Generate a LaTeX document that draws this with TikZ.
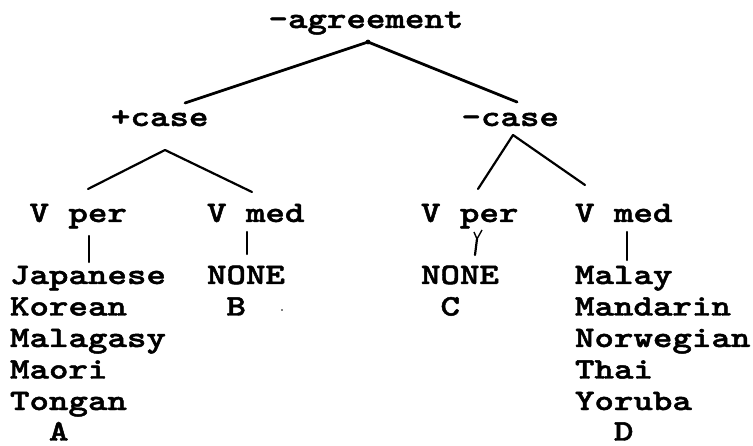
\documentclass[tikz,border=0pt]{standalone}
\usepackage{fontspec}
\newfontfamily\courfont{lmmonolt10-bold}[Extension=.otf,FakeStretch=1.25,FakeBold=1.6]
\begin{document}
\begin{tikzpicture}[x=1pt,y=-1pt,
  lbl/.style={anchor=base west,inner sep=0pt,outer sep=0pt,
    font=\courfont\fontsize{29.7}{29.7}\selectfont},
  edge/.style={line width=2.8pt,line cap=round},
  thin edge/.style={line width=2.2pt,line cap=round}]
\useasboundingbox[fill=white] (0,0) rectangle (753,446);
% labels
\node[lbl] (agr) at (268.5,28) {-agreement};
\node[lbl] (pc) at (111,126) {+case};
\node[lbl] (mc) at (461.5,126) {-case};
\node[lbl] (vp1) at (29.5,222) {V per};
\node[lbl] (vm1) at (207,222) {V med};
\node[lbl] (vp2) at (421,222) {V per};
\node[lbl] (vm2) at (575,222) {V med};
% column 1
\node[lbl] (l1a) at (10,284) {Japanese};
\node[lbl] (l1b) at (10,315.5) {Korean};
\node[lbl] (l1c) at (10,347) {Malagasy};
\node[lbl] (l1d) at (10,378.5) {Maori};
\node[lbl] (l1e) at (10,410) {Tongan};
\node[lbl] (gA) at (49,440.5) {A};
% column 2
\node[lbl] (n2) at (207,284) {NONE};
\node[lbl] (gB) at (226.5,315.5) {B};
% column 3
\node[lbl] (n3) at (421,284) {NONE};
\node[lbl] (gC) at (440.5,315.5) {C};
% column 4
\node[lbl] (l4a) at (575,284) {Malay};
\node[lbl] (l4b) at (575,315.5) {Mandarin};
\node[lbl] (l4c) at (575,347) {Norwegian};
\node[lbl] (l4d) at (575,378.5) {Thai};
\node[lbl] (l4e) at (575,410) {Yoruba};
\node[lbl] (gD) at (614,440.5) {D};
% connector points
\coordinate (agrB) at (368,42);
\coordinate (pcT) at (185,103);
\coordinate (mcT) at (517,102);
\coordinate (pcB) at (165,150);
\coordinate (vp1T) at (88,189);
\coordinate (vm1T) at (252,192);
\coordinate (mcB) at (513,135);
\coordinate (vp2T) at (478,189);
\coordinate (vm2T) at (585,185);
\coordinate (vp1B) at (89,236);
\coordinate (l1T) at (89,262);
\coordinate (vm1B) at (247,232);
\coordinate (n2T) at (247,254);
\coordinate (vp2Bl) at (474,232);
\coordinate (vp2Br) at (482,230);
\coordinate (vp2F) at (477,239);
\coordinate (n3T) at (475,255);
\coordinate (vm2B) at (627,232);
\coordinate (l4T) at (627,260);
% connectors
\fill (agrB) circle (2.4pt);
\draw[edge] (agrB) -- (pcT);
\draw[edge] (agrB) -- (mcT);
\draw[thin edge] (pcB) -- (vp1T);
\draw[thin edge] (pcB) -- (vm1T);
\draw[thin edge] (mcB) -- (vp2T);
\draw[thin edge] (mcB) -- (vm2T);
\draw[thin edge] (vp1B) -- (l1T);
\draw[thin edge] (vm1B) -- (n2T);
\draw[line width=1.4pt] (vp2Bl) -- (vp2F) (vp2Br) -- (vp2F);
\draw[thin edge] (vp2F) -- (n3T);
\draw[thin edge] (vm2B) -- (l4T);
\fill (282,310) circle (0.9pt);
\end{tikzpicture}
\end{document}
